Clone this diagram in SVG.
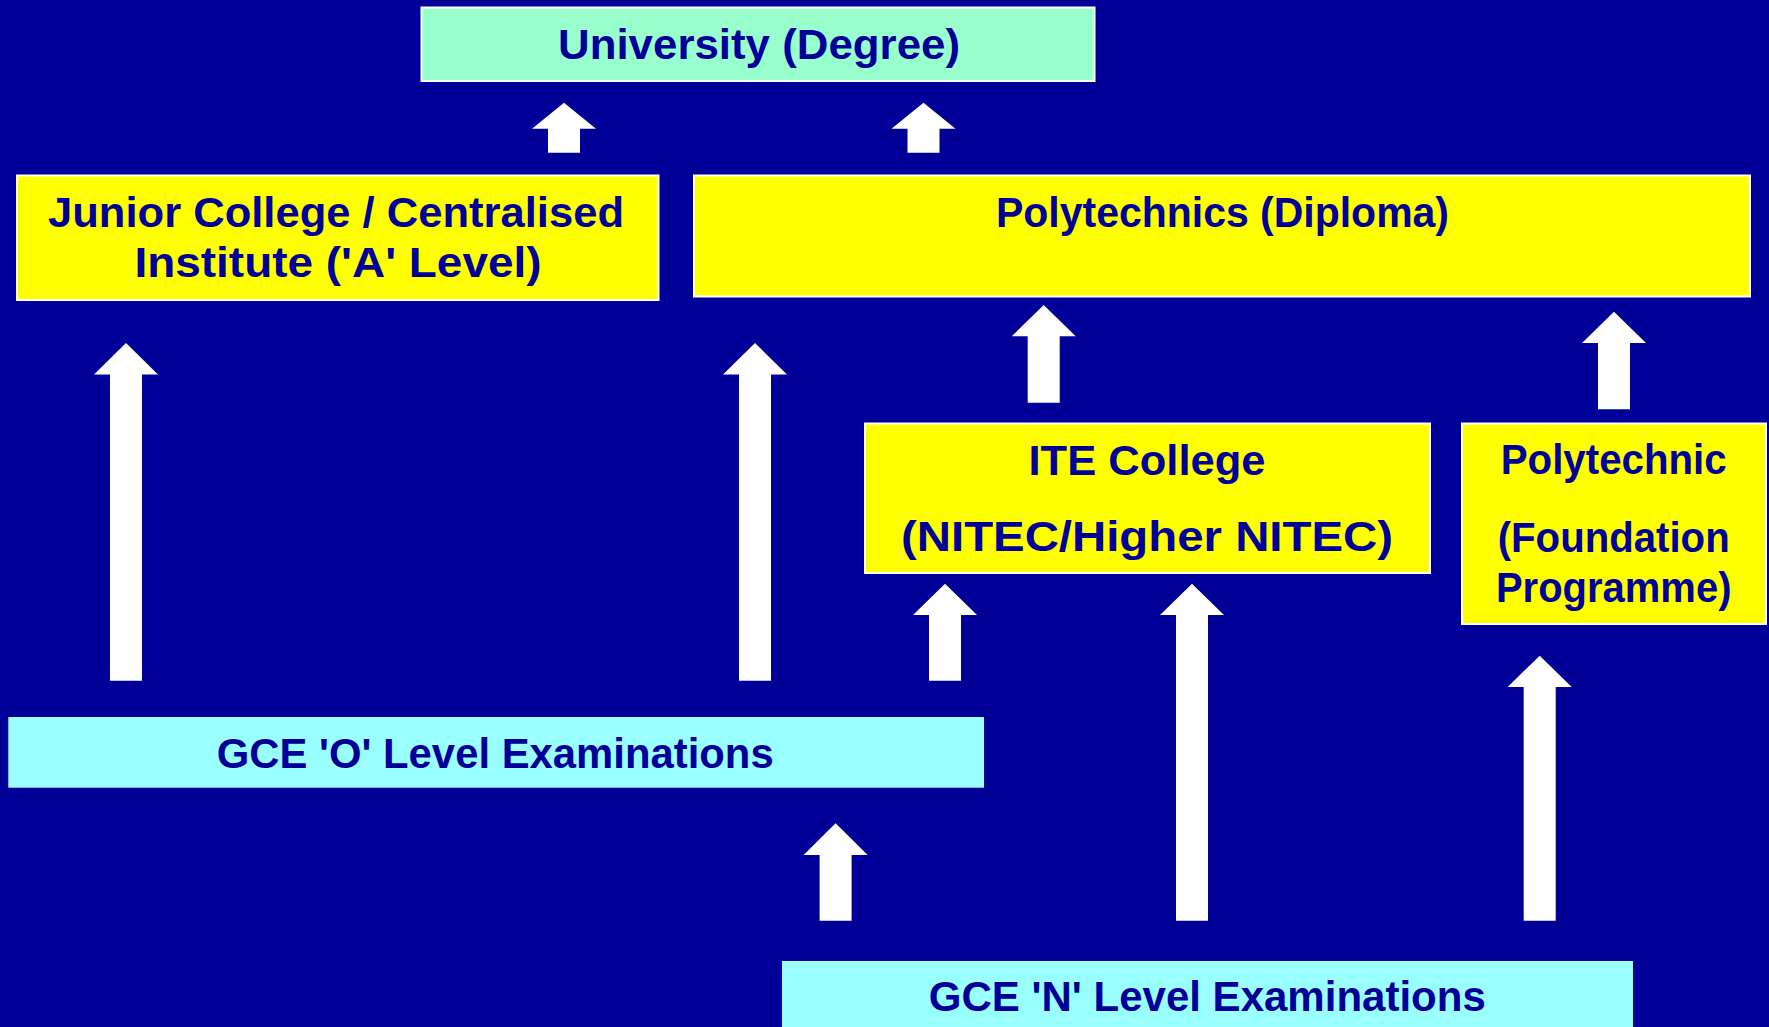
<svg xmlns="http://www.w3.org/2000/svg" width="1769" height="1027" viewBox="0 0 1769 1027">
<style>
.bg{fill:#000099}
.yel{fill:#FFFF00;stroke:#FFFFFF;stroke-width:2}
.mint{fill:#99FFCC;stroke:#FFFFFF;stroke-width:2}
.cyan{fill:#99FFFF}
.t{font-family:"Liberation Sans","DejaVu Sans",sans-serif;font-weight:700;font-size:43px;fill:#000099;text-anchor:middle}
.arrow{fill:#FFFFFF}
</style>
<rect class="bg" x="0" y="0" width="1769" height="1027"/>

<g id="connectors">
<polygon class="arrow" points="564,102.7 596,128.7 580,128.7 580,152.7 548,152.7 548,128.7 532,128.7"/>
<polygon class="arrow" points="923.5,102.7 955.5,128.7 939.5,128.7 939.5,152.7 907.5,152.7 907.5,128.7 891.5,128.7"/>
<polygon class="arrow" points="126,343 158,374.5 142,374.5 142,680.7 110,680.7 110,374.5 94,374.5"/>
<polygon class="arrow" points="755,343 787,374.5 771,374.5 771,680.7 739,680.7 739,374.5 723,374.5"/>
<polygon class="arrow" points="945,583.7 977,615 961,615 961,680.7 929,680.7 929,615 913,615"/>
<polygon class="arrow" points="1043.7,305 1075.7,336.3 1059.7,336.3 1059.7,402.7 1027.7,402.7 1027.7,336.3 1011.7,336.3"/>
<polygon class="arrow" points="1614,311.7 1646,343 1630,343 1630,409.3 1598,409.3 1598,343 1582,343"/>
<polygon class="arrow" points="835.6,823.3 867.6,855 851.6,855 851.6,920.7 819.6,920.7 819.6,855 803.6,855"/>
<polygon class="arrow" points="1192,583.7 1224,615 1208,615 1208,920.7 1176,920.7 1176,615 1160,615"/>
<polygon class="arrow" points="1539.7,655.7 1571.7,687 1555.7,687 1555.7,920.7 1523.7,920.7 1523.7,687 1507.7,687"/>
</g>

<g id="university">
<rect class="mint" x="421.5" y="7.5" width="673" height="73.5"/>
<text class="t" x="759" y="59" textLength="402" lengthAdjust="spacingAndGlyphs">University (Degree)</text>
</g>

<g id="junior-college">
<rect class="yel" x="17" y="175.5" width="641.5" height="124.5"/>
<text class="t" x="336" y="226.5" textLength="576" lengthAdjust="spacingAndGlyphs">Junior College / Centralised</text>
<text class="t" x="338" y="276.5" textLength="407" lengthAdjust="spacingAndGlyphs">Institute ('A' Level)</text>
</g>

<g id="polytechnics">
<rect class="yel" x="694" y="175.5" width="1056" height="121"/>
<text class="t" x="1222.5" y="226.5" textLength="453" lengthAdjust="spacingAndGlyphs">Polytechnics (Diploma)</text>
</g>

<g id="ite-college">
<rect class="yel" x="865" y="423.5" width="565" height="149.5"/>
<text class="t" x="1147" y="475" textLength="237" lengthAdjust="spacingAndGlyphs">ITE College</text>
<text class="t" x="1147" y="551" textLength="492" lengthAdjust="spacingAndGlyphs">(NITEC/Higher NITEC)</text>
</g>

<g id="polytechnic-foundation">
<rect class="yel" x="1462" y="423.5" width="304" height="200.5"/>
<text class="t" x="1613.7" y="474" textLength="226" lengthAdjust="spacingAndGlyphs">Polytechnic</text>
<text class="t" x="1613.7" y="551.5" textLength="232" lengthAdjust="spacingAndGlyphs">(Foundation</text>
<text class="t" x="1613.7" y="601.5" textLength="235.5" lengthAdjust="spacingAndGlyphs">Programme)</text>
</g>

<g id="o-level">
<rect class="cyan" x="8.3" y="717" width="975.7" height="70.7"/>
<text class="t" x="495.2" y="768.3" textLength="557" lengthAdjust="spacingAndGlyphs">GCE 'O' Level Examinations</text>
</g>

<g id="n-level">
<rect class="cyan" x="782" y="961" width="851" height="70"/>
<text class="t" x="1207.3" y="1011" textLength="557" lengthAdjust="spacingAndGlyphs">GCE 'N' Level Examinations</text>
</g>
</svg>
